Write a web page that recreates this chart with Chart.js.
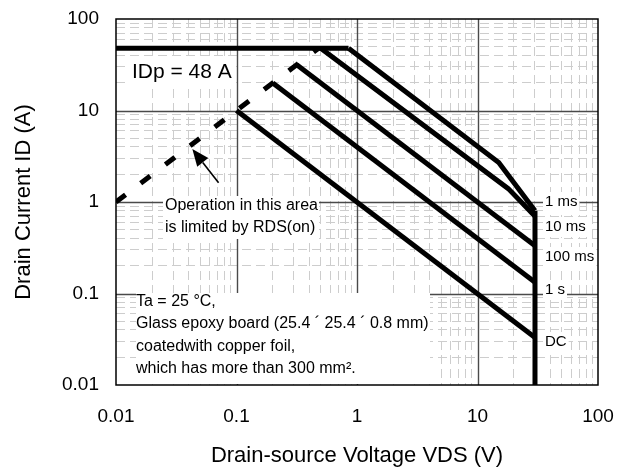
<!DOCTYPE html>
<html>
<head>
<meta charset="utf-8">
<script src="https://cdn.jsdelivr.net/npm/chart.js@4"></script>
<style>
  body { margin: 0; background: #fff; }
</style>
</head>
<body>
<canvas id="mycanvas" width="625" height="472"></canvas>
<script>
// axis decades (tick labels)
var majorTicks = [0.01, 0.1, 1, 10, 100];

// Operation limited by RDS(on)
var rdsV = [0.01, 0.48];
var rdsI = [1, 48];
// IDp = 48 A
var idpV = [0.01, 0.85];
var idpI = [48, 48];
// 1 ms
var ms1V = [0.85, 15, 30];
var ms1I = [48, 2.7, 0.8];
// 10 ms
var ms10V = [0.5, 18, 30];
var ms10I = [48, 1.4, 0.7];
// 100 ms
var ms100V = [0.316, 30];
var ms100I = [31.6, 0.333];
// 1 s
var s1V = [0.2, 30];
var s1I = [20, 0.133];
// DC
var dcV = [0.1, 30];
var dcI = [10, 0.033];
// VDSS limit
var vdssV = [30, 30];
var vdssI = [0.8, 0.01];
// arrow pointing at the RDS(on) line
var arrowV = [0.071, 0.043];
var arrowI = [1.62, 3.8];

function pts(xs, ys) {
	var out = [];
	for (var i in xs) {
		out.push({x: xs[i], y: ys[i]});
	}
	return out;
}

function solid(xs, ys) {
	return {
		data: pts(xs, ys),
		borderColor: '#000',
		borderWidth: 5,
		pointRadius: 0,
		fill: false,
		tension: 0,
		borderJoinStyle: 'miter',
		borderCapStyle: 'butt'
	};
}

var rdsSet = solid(rdsV, rdsI);
rdsSet.borderDash = [12, 19];

var chartdata = {
	datasets: [
		rdsSet,
		solid(idpV, idpI),
		solid(ms1V, ms1I),
		solid(ms10V, ms10I),
		solid(ms100V, ms100I),
		solid(s1V, s1I),
		solid(dcV, dcI),
		solid(vdssV, vdssI)
	]
};

var FONT = 'Liberation Sans, Arial, sans-serif';

function logTicks(scale) {
	var t = [];
	for (var i = 0; i < majorTicks.length; i++) {
		t.push({value: majorTicks[i], major: true});
		if (i < majorTicks.length - 1) {
			for (var m = 2; m <= 9; m++) {
				t.push({value: majorTicks[i] * m, major: false});
			}
		}
	}
	scale.ticks = t;
}

function minorColor(ctx) {
	return (ctx.tick && ctx.tick.major) ? 'rgba(0,0,0,0)' : '#cdcdcd';
}

function tickLabel(value) {
	return majorTicks.indexOf(value) >= 0 ? String(value) : '';
}

var decor = {
	id: 'decor',
	beforeDatasetsDraw: function(chart) {
		var c = chart.ctx, a = chart.chartArea;
		var xs = chart.scales.x, ys = chart.scales.y;
		c.save();
		// major grid
		c.strokeStyle = '#4a4a4a';
		c.lineWidth = 1.4;
		for (var i = 1; i < majorTicks.length - 1; i++) {
			var px = Math.round(xs.getPixelForValue(majorTicks[i])) + 0.5;
			var py = Math.round(ys.getPixelForValue(majorTicks[i])) + 0.5;
			c.beginPath(); c.moveTo(px, a.top); c.lineTo(px, a.bottom); c.stroke();
			c.beginPath(); c.moveTo(a.left, py); c.lineTo(a.right, py); c.stroke();
		}
		// white boxes behind notes
		c.fillStyle = '#fff';
		c.fillRect(130, 58, 106, 30);
		c.fillRect(163, 196, 156, 43);
		c.fillRect(136, 293, 294, a.bottom - 294);
		// right side labels background
		c.font = '15px ' + FONT;
		var labs = [['1 ms', 202], ['10 ms', 227], ['100 ms', 257], ['1 s', 290], ['DC', 342]];
		for (var k in labs) {
			var w = c.measureText(labs[k][0]).width;
			c.fillRect(543, labs[k][1] - 10, w + 4, 20);
		}
		// frame
		c.strokeStyle = '#000';
		c.lineWidth = 1.5;
		c.strokeRect(a.left, a.top, a.right - a.left, a.bottom - a.top);
		c.restore();
	},
	afterDatasetsDraw: function(chart) {
		var c = chart.ctx;
		var xs = chart.scales.x, ys = chart.scales.y;
		c.save();
		c.fillStyle = '#000';
		c.textBaseline = 'middle';
		c.textAlign = 'left';
		c.font = '21px ' + FONT;
		c.fillText('IDp = 48 A', 132, 72);
		c.font = '16px ' + FONT;
		c.fillText('Operation in this area', 165, 206);
		c.fillText('is limited by RDS(on)', 165, 228);
		c.fillText('Ta = 25 \u00b0C,', 136, 302);
		c.fillText('Glass epoxy board (25.4 \u00b4 25.4 \u00b4 0.8 mm)', 136, 324);
		c.fillText('coatedwith copper foil,', 136, 347);
		c.fillText('which has more than 300 mm\u00b2.', 136, 369);
		c.font = '15px ' + FONT;
		c.fillText('1 ms', 545, 202);
		c.fillText('10 ms', 545, 227);
		c.fillText('100 ms', 545, 257);
		c.fillText('1 s', 545, 290);
		c.fillText('DC', 545, 342);
		// arrow
		var x0 = xs.getPixelForValue(arrowV[0]), y0 = ys.getPixelForValue(arrowI[0]);
		var x1 = xs.getPixelForValue(arrowV[1]), y1 = ys.getPixelForValue(arrowI[1]);
		var ang = Math.atan2(y1 - y0, x1 - x0);
		var hl = 17, hw = 7;
		var bx = x1 - hl * Math.cos(ang), by = y1 - hl * Math.sin(ang);
		c.strokeStyle = '#000';
		c.lineWidth = 1.6;
		c.beginPath(); c.moveTo(x0, y0); c.lineTo(bx, by); c.stroke();
		c.beginPath();
		c.moveTo(x1, y1);
		c.lineTo(bx + hw * Math.sin(ang), by - hw * Math.cos(ang));
		c.lineTo(bx - hw * Math.sin(ang), by + hw * Math.cos(ang));
		c.closePath();
		c.fill();
		c.restore();
	}
};

var cxt = document.getElementById('mycanvas');
var soaChart = new Chart(cxt, {
	type: 'line',
	data: chartdata,
	plugins: [decor],
	options: {
		responsive: false,
		animation: false,
		layout: { padding: { top: 19, right: 27, left: 0, bottom: 0 } },
		plugins: {
			legend: { display: false },
			tooltip: { enabled: false }
		},
		scales: {
			x: {
				type: 'logarithmic',
				min: 0.01,
				max: 100,
				afterBuildTicks: logTicks,
				afterFit: function(s) {
					s.height = 87;
					s.paddingLeft = 0;
					s.paddingRight = 0;
				},
				grid: { color: minorColor, lineWidth: 1, drawTicks: false },
				border: { display: false, dash: [9, 5] },
				ticks: {
					autoSkip: false,
					maxRotation: 0,
					padding: 20,
					color: '#000',
					font: { family: FONT, size: 19 },
					callback: tickLabel
				},
				title: {
					display: true,
					text: 'Drain-source Voltage VDS (V)',
					color: '#000',
					font: { family: FONT, size: 22 },
					padding: { top: 0, bottom: 3 }
				}
			},
			y: {
				type: 'logarithmic',
				min: 0.01,
				max: 100,
				afterBuildTicks: logTicks,
				afterFit: function(s) {
					s.width = 116;
					s.paddingTop = 0;
					s.paddingBottom = 0;
				},
				grid: { color: minorColor, lineWidth: 1, drawTicks: false },
				border: { display: false, dash: [9, 5] },
				ticks: {
					autoSkip: false,
					padding: 17,
					color: '#000',
					font: { family: FONT, size: 19 },
					callback: tickLabel
				},
				title: {
					display: true,
					text: 'Drain Current ID (A)',
					color: '#000',
					font: { family: FONT, size: 22 },
					padding: { top: 11, bottom: 0 }
				}
			}
		}
	}
});
</script>
</body>
</html>
